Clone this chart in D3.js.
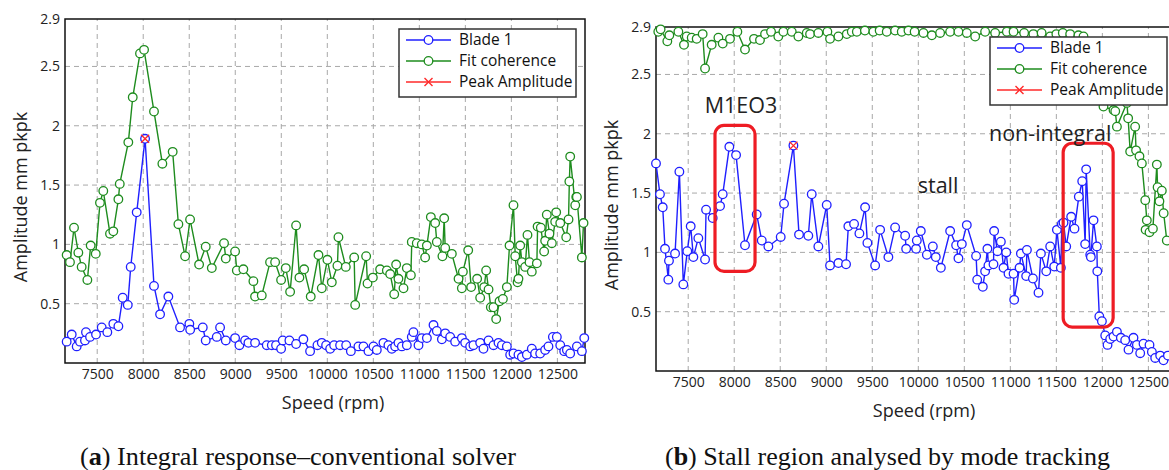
<!DOCTYPE html>
<html lang="en">
<head>
<meta charset="UTF-8">
<title>Blade amplitude vs speed</title>
<style>
  body { margin: 0; background: #fff; }
  svg { display: block; }
  .tick text { font-family: "Open Sans", sans-serif; font-size: 14px; fill: #222; }
  .axis-label { font-family: "Open Sans", sans-serif; font-size: 18px; fill: #222; }
  .legend text { font-family: "Open Sans", sans-serif; font-size: 15.5px; fill: #111; }
  .note { font-family: "Open Sans", sans-serif; font-size: 21.5px; fill: #222; }
  .caption { font-family: "Liberation Serif", serif; font-size: 25px; fill: #111; }
</style>
</head>
<body>
<div id="chart"></div>
<script src="https://d3js.org/d3.v7.min.js"></script>
<script>
// speed ticks and amplitude ticks shared by both panels
const xTicks = [7500, 8000, 8500, 9000, 9500, 10000, 10500, 11000, 11500, 12000, 12500];
const yTicks = [0.5, 1, 1.5, 2, 2.5, 2.9];
const legendNames = ["Blade 1", "Fit coherence", "Peak Amplitude"];

// (a) integral response, [speed rpm, amplitude]
const bladeA = [[7168,0.18],[7223,0.24],[7277,0.14],[7313,0.18],[7367,0.19],[7378,0.26],[7422,0.22],[7487,0.24],[7549,0.30],[7610,0.26],[7675,0.33],[7730,0.31],[7777,0.55],[7832,0.49],[7864,0.81],[7929,1.27],[8020,1.89],[8117,0.65],[8183,0.41],[8273,0.56],[8400,0.30],[8501,0.33],[8510,0.28],[8647,0.30],[8679,0.19],[8799,0.22],[8835,0.30],[8897,0.19],[8998,0.21],[9045,0.15],[9107,0.19],[9143,0.17],[9215,0.17],[9342,0.15],[9397,0.15],[9443,0.15],[9498,0.12],[9516,0.19],[9588,0.19],[9661,0.16],[9740,0.20],[9813,0.10],[9893,0.15],[9940,0.17],[9987,0.15],[10031,0.12],[10074,0.15],[10139,0.15],[10205,0.15],[10256,0.10],[10338,0.14],[10393,0.14],[10447,0.10],[10502,0.14],[10538,0.11],[10610,0.17],[10664,0.15],[10701,0.12],[10737,0.14],[10773,0.17],[10810,0.14],[10864,0.15],[10918,0.22],[10936,0.26],[10991,0.15],[11027,0.21],[11082,0.21],[11154,0.32],[11190,0.27],[11245,0.20],[11281,0.25],[11335,0.22],[11389,0.18],[11462,0.21],[11498,0.17],[11552,0.14],[11588,0.15],[11661,0.17],[11697,0.12],[11752,0.19],[11806,0.15],[11860,0.17],[11897,0.15],[11951,0.14],[11987,0.07],[12023,0.08],[12077,0.07],[12114,0.05],[12168,0.07],[12222,0.12],[12258,0.08],[12313,0.08],[12367,0.11],[12403,0.14],[12451,0.22],[12494,0.22],[12531,0.15],[12574,0.10],[12603,0.11],[12639,0.08],[12712,0.14],[12766,0.10],[12792,0.21]];
const fitA = [[7168,0.91],[7204,0.85],[7248,1.14],[7295,0.93],[7331,0.81],[7393,0.70],[7429,0.99],[7484,0.92],[7530,1.35],[7566,1.45],[7639,1.09],[7675,1.11],[7730,1.38],[7745,1.51],[7838,1.86],[7886,2.24],[7965,2.61],[8009,2.64],[8117,2.12],[8208,1.68],[8320,1.78],[8382,1.17],[8455,0.90],[8509,1.21],[8607,0.83],[8679,0.98],[8745,0.80],[8878,1.01],[8897,0.88],[8998,0.94],[9017,0.78],[9088,0.79],[9197,0.69],[9215,0.56],[9288,0.57],[9378,0.85],[9433,0.85],[9498,0.70],[9549,0.80],[9596,0.60],[9661,1.16],[9697,0.72],[9748,0.79],[9820,0.56],[9904,0.91],[9940,0.63],[10001,0.87],[10049,0.68],[10110,0.82],[10121,1.06],[10201,0.81],[10292,0.89],[10303,0.49],[10422,0.90],[10437,0.67],[10495,0.72],[10574,0.79],[10647,0.78],[10683,0.75],[10727,0.58],[10748,0.83],[10773,0.71],[10828,0.63],[10864,0.80],[10908,0.74],[10918,1.02],[10972,1.01],[11027,1.00],[11063,0.89],[11082,0.99],[11125,1.23],[11172,1.18],[11190,1.02],[11251,0.90],[11270,1.22],[11281,0.97],[11353,0.92],[11426,0.71],[11462,0.63],[11473,0.77],[11531,0.95],[11563,0.64],[11628,0.71],[11661,0.55],[11705,0.64],[11726,0.78],[11752,0.62],[11777,0.47],[11806,0.47],[11835,0.37],[11871,0.52],[11908,0.54],[11951,0.64],[11980,0.99],[12023,1.33],[12042,0.90],[12067,0.68],[12077,0.71],[12096,0.99],[12114,0.85],[12150,0.81],[12175,1.08],[12197,0.85],[12222,0.77],[12277,0.84],[12285,1.15],[12320,1.14],[12356,0.94],[12367,1.03],[12385,1.25],[12414,1.09],[12440,1.01],[12476,1.19],[12487,1.27],[12531,1.18],[12596,1.06],[12621,1.21],[12630,1.53],[12639,1.74],[12694,1.33],[12705,1.40],[12712,1.40],[12766,0.89],[12784,1.18]];
const peakA = [[8020, 1.89]];

// (b) stall region, [speed rpm, amplitude]
const bladeB = [[7150,1.75],[7193,1.49],[7223,1.38],[7248,1.03],[7284,0.77],[7291,0.93],[7357,0.99],[7404,1.68],[7447,0.73],[7490,1.01],[7527,1.22],[7556,0.96],[7610,1.12],[7683,0.94],[7694,1.36],[7766,1.29],[7846,1.39],[7875,1.49],[7947,1.89],[8020,1.82],[8117,1.06],[8244,1.32],[8299,1.10],[8371,1.05],[8505,1.13],[8541,1.41],[8643,1.90],[8704,1.15],[8805,1.14],[8842,1.49],[8914,1.05],[9005,1.40],[9041,0.89],[9132,0.91],[9215,0.90],[9240,1.22],[9302,1.24],[9360,1.16],[9422,1.38],[9447,1.08],[9531,0.89],[9585,1.19],[9675,0.96],[9748,1.21],[9857,1.14],[9868,1.03],[9976,1.03],[9984,1.10],[10027,1.18],[10093,0.98],[10158,1.05],[10190,0.96],[10245,0.87],[10346,1.18],[10411,1.06],[10436,0.95],[10473,1.07],[10527,1.23],[10628,0.97],[10640,0.77],[10701,0.71],[10726,0.84],[10751,1.03],[10762,0.89],[10817,0.90],[10824,1.18],[10860,1.01],[10897,1.09],[10926,0.87],[10955,1.00],[10980,0.82],[11035,0.82],[11042,0.60],[11100,0.87],[11115,0.99],[11172,0.80],[11180,1.02],[11245,0.78],[11306,0.66],[11332,0.99],[11390,0.84],[11433,1.05],[11477,0.88],[11506,1.19],[11549,0.87],[11560,1.24],[11578,1.25],[11607,1.05],[11661,1.30],[11697,1.20],[11744,1.47],[11781,1.60],[11813,1.07],[11824,1.70],[11868,0.98],[11875,0.96],[11904,1.27],[11940,1.05],[11945,0.84],[11967,0.46],[11995,0.42],[12031,0.30],[12056,0.22],[12085,0.27],[12121,0.29],[12158,0.33],[12201,0.28],[12248,0.26],[12284,0.18],[12338,0.28],[12375,0.22],[12411,0.15],[12447,0.23],[12512,0.22],[12538,0.16],[12574,0.11],[12628,0.13],[12664,0.09],[12712,0.13]];
const fitB = [[7175,2.86],[7200,2.88],[7273,2.78],[7295,2.83],[7393,2.86],[7454,2.75],[7484,2.82],[7538,2.81],[7592,2.80],[7657,2.84],[7683,2.55],[7755,2.75],[7828,2.81],[7875,2.76],[7954,2.80],[8034,2.86],[8117,2.71],[8215,2.80],[8280,2.79],[8335,2.84],[8400,2.86],[8479,2.82],[8534,2.86],[8625,2.86],[8697,2.82],[8788,2.85],[8824,2.84],[8914,2.85],[9012,2.86],[9041,2.80],[9132,2.82],[9223,2.84],[9277,2.86],[9332,2.86],[9420,2.87],[9512,2.86],[9580,2.87],[9657,2.86],[9748,2.87],[9820,2.86],[9893,2.87],[9960,2.86],[10056,2.85],[10147,2.83],[10237,2.85],[10346,2.86],[10436,2.86],[10527,2.85],[10618,2.82],[10726,2.86],[10835,2.85],[10962,2.86],[11035,2.86],[11150,2.85],[11250,2.84],[11340,2.85],[11433,2.82],[11500,2.84],[11570,2.85],[11650,2.84],[11740,2.83],[11795,2.82],[11880,2.75],[11950,2.50],[12012,2.23],[12121,2.20],[12140,2.19],[12158,2.06],[12266,2.26],[12280,2.13],[12302,1.85],[12356,2.06],[12366,1.86],[12403,1.81],[12429,1.75],[12466,1.44],[12483,1.27],[12470,1.19],[12512,1.17],[12549,1.20],[12592,1.74],[12600,1.55],[12620,1.43],[12646,1.52],[12666,1.33],[12700,1.10]];
const peakB = [[8643, 1.90]];

// annotations for (b): [label, speed, amplitude]
const notesB = [["M1EO3", 8074, 2.24], ["non-integral", 11433, 2.0], ["stall", 10215, 1.56]];
// highlighted regions for (b): [speed0, speed1, amp0, amp1]
const boxesB = [[7791, 8226, 0.84, 2.07], [11574, 12117, 0.37, 1.92]];

const width = 1169, height = 470;
const blue = "#1f1fff", green = "#1e8c1e", red = "#ff2a2a";

const svg = d3.select("#chart").append("svg")
  .attr("width", width).attr("height", height);
svg.append("rect").attr("width", width).attr("height", height).attr("fill", "#fff");

function drawPanel(opt) {
  const x = d3.scaleLinear().domain([7150, 12800]).range([opt.left, opt.left + 520]);
  const y = d3.scaleLinear().domain([0, 2.9]).range([opt.bottom, opt.top]);
  const g = svg.append("g");

  // dashed grid
  g.append("g").selectAll("line").data(xTicks).join("line")
    .attr("x1", d => x(d)).attr("x2", d => x(d))
    .attr("y1", y(0)).attr("y2", y(2.9))
    .attr("stroke", "#a8a8a8").attr("stroke-dasharray", "5,4");
  g.append("g").selectAll("line").data(yTicks.filter(d => d < 2.9)).join("line")
    .attr("x1", x(7150)).attr("x2", x(12800))
    .attr("y1", d => y(d)).attr("y2", d => y(d))
    .attr("stroke", "#a8a8a8").attr("stroke-dasharray", "5,4");

  // frame
  g.append("rect")
    .attr("x", x(7150)).attr("y", y(2.9))
    .attr("width", x(12800) - x(7150)).attr("height", y(0) - y(2.9))
    .attr("fill", "none").attr("stroke", "#111").attr("stroke-width", 1.5);

  const xAxis = g.append("g").attr("transform", `translate(0,${opt.bottom})`)
    .call(d3.axisBottom(x).tickValues(xTicks).tickSize(0).tickPadding(6).tickFormat(d3.format("d")));
  xAxis.select(".domain").remove();
  const yAxis = g.append("g").attr("transform", `translate(${opt.left},0)`)
    .call(d3.axisLeft(y).tickValues(yTicks).tickSize(0).tickPadding(5).tickFormat(d => String(d)));
  yAxis.select(".domain").remove();

  g.append("text").attr("class", "axis-label")
    .attr("x", (x(7150) + x(12800)) / 2 + 8).attr("y", opt.bottom + 40)
    .attr("text-anchor", "middle").attr("dy", "0.35em").text("Speed (rpm)");
  g.append("text").attr("class", "axis-label")
    .attr("transform", `translate(${opt.left - 44},${(opt.top + opt.bottom) / 2 + 6}) rotate(-90)`)
    .attr("text-anchor", "middle").attr("dy", "0.35em").text("Amplitude mm pkpk");

  const line = d3.line().x(d => x(d[0])).y(d => y(d[1]));
  [[opt.fit, green], [opt.blade, blue]].forEach(([data, col]) => {
    g.append("path").datum(data).attr("d", line)
      .attr("fill", "none").attr("stroke", col).attr("stroke-width", 1.4);
    g.append("g").selectAll("circle").data(data).join("circle")
      .attr("cx", d => x(d[0])).attr("cy", d => y(d[1])).attr("r", 4.3)
      .attr("fill", "#fff").attr("stroke", col).attr("stroke-width", 1.3);
  });

  // peak amplitude cross
  const pk = g.append("g").selectAll("g").data(opt.peak).join("g")
    .attr("transform", d => `translate(${x(d[0])},${y(d[1])})`);
  pk.append("path").attr("d", "M-4,-4L4,4M-4,4L4,-4")
    .attr("stroke", red).attr("stroke-width", 1.4);

  // highlighted regions and notes
  g.append("g").selectAll("rect").data(opt.boxes || []).join("rect")
    .attr("x", d => x(d[0])).attr("y", d => y(d[3]))
    .attr("width", d => x(d[1]) - x(d[0])).attr("height", d => y(d[2]) - y(d[3]))
    .attr("rx", 9).attr("fill", "none").attr("stroke", "#ee1c24").attr("stroke-width", 3.2);
  g.append("g").selectAll("text").data(opt.notes || []).join("text")
    .attr("class", "note").attr("x", d => x(d[1])).attr("y", d => y(d[2]))
    .attr("text-anchor", "middle").attr("dy", "0.35em").text(d => d[0]);

  // legend, anchored to top-right of plot
  const lw = 177, lh = 68;
  const lg = g.append("g").attr("class", "legend")
    .attr("transform", `translate(${x(12800) - 9 - lw},${opt.top + 10})`);
  lg.append("rect").attr("width", lw).attr("height", lh)
    .attr("fill", "#fff").attr("stroke", "#333").attr("stroke-width", 1.5);
  const cols = [blue, green, red];
  const item = lg.selectAll("g.item").data(legendNames).join("g").attr("class", "item")
    .attr("transform", (d, i) => `translate(0,${11 + i * 21})`);
  item.append("line").attr("x1", 7).attr("x2", 52)
    .attr("stroke", (d, i) => cols[i]).attr("stroke-width", 1.4);
  item.filter((d, i) => i < 2).append("circle").attr("cx", 29.5).attr("r", 4.3)
    .attr("fill", "#fff").attr("stroke", (d, i) => cols[i]).attr("stroke-width", 1.3);
  item.filter((d, i) => i === 2).append("path").attr("d", "M25.5,-4L33.5,4M25.5,4L33.5,-4")
    .attr("stroke", red).attr("stroke-width", 1.4);
  item.append("text").attr("x", 60).attr("dy", "0.35em").text(d => d);

  // caption
  const cap = svg.append("text").attr("class", "caption")
    .attr("x", opt.capX).attr("y", 456).attr("dy", "0.35em")
    .attr("textLength", opt.capW).attr("lengthAdjust", "spacingAndGlyphs");
  cap.append("tspan").text("(");
  cap.append("tspan").attr("font-weight", "bold").text(opt.letter);
  cap.append("tspan").text(") " + opt.caption);
}

drawPanel({ left: 65, top: 19, bottom: 363, blade: bladeA, fit: fitA, peak: peakA,
  letter: "a", caption: "Integral response–conventional solver", capX: 80, capW: 436 });
drawPanel({ left: 656, top: 27, bottom: 371, blade: bladeB, fit: fitB, peak: peakB,
  notes: notesB, boxes: boxesB,
  letter: "b", caption: "Stall region analysed by mode tracking", capX: 665, capW: 445 });
</script>
</body>
</html>
